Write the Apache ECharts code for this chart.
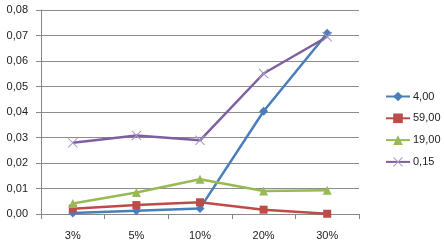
<!DOCTYPE html>
<html>
<head>
<meta charset="utf-8">
<script src="https://cdn.jsdelivr.net/npm/echarts@6/dist/echarts.min.js"></script>
<style>
  html, body { margin: 0; padding: 0; background: #fff; }
  #chart { width: 444px; height: 248px; }
</style>
</head>
<body>
<div id="chart"></div>
<script>
const categories = ["3%", "5%", "10%", "20%", "30%"];
const seriesNames = ["4,00", "59,00", "19,00", "0,15"];
const s400 = [0.0004, 0.0013, 0.0022, 0.0403, 0.0709];
const s5900 = [0.0021, 0.0035, 0.0046, 0.0017, 0.0001];
const s1900 = [0.0041, 0.0084, 0.0136, 0.0090, 0.0093];
const s015 = [0.0279, 0.0308, 0.0289, 0.0551, 0.0695];

const colors = ["#4a7ebb", "#be4b48", "#98b954", "#7d60a0"];
// thin X marker like the Excel one
const crossPath = "path://M0,0.7 L0.7,0 L5,4.3 L9.3,0 L10,0.7 L5.7,5 L10,9.3 L9.3,10 L5,5.7 L0.7,10 L0,9.3 L4.3,5 Z";

const chart = echarts.init(document.getElementById("chart"));

const mk = (name, data, color, symbol, size, markColor) => ({
  name,
  type: "line",
  data,
  symbol,
  symbolSize: size,
  showAllSymbol: true,
  lineStyle: { color, width: 2.5 },
  itemStyle: { color: markColor || color },
});

chart.setOption({
  animation: false,
  textStyle: { fontFamily: "Liberation Sans, Arial, sans-serif" },
  grid: { left: 41, right: 85, top: 10, bottom: 34 },
  legend: {
    orient: "vertical",
    left: 380,
    top: 86,
    itemWidth: 24,
    itemHeight: 12,
    itemGap: 10.8,
    textStyle: { fontSize: 11, color: "#222", padding: [0, 0, 0, -2] },
    data: seriesNames,
  },
  xAxis: {
    type: "category",
    data: categories,
    boundaryGap: true,
    axisLine: { lineStyle: { color: "#888", width: 1 } },
    axisTick: { show: true, length: 5, lineStyle: { color: "#888" } },
    axisLabel: { fontSize: 11, color: "#222", margin: 16 },
  },
  yAxis: {
    type: "value",
    min: 0,
    max: 0.08,
    interval: 0.01,
    axisLine: { show: true, lineStyle: { color: "#888" } },
    axisTick: { show: true, length: 5, lineStyle: { color: "#888" } },
    axisLabel: {
      fontSize: 11,
      color: "#222",
      margin: 13,
      formatter: (v) => v.toFixed(2).replace(".", ","),
    },
    splitLine: { lineStyle: { color: "#8c8c8c", width: 1 } },
  },
  series: [
    mk(seriesNames[0], s400, colors[0], "diamond", 9),
    mk(seriesNames[1], s5900, colors[1], "rect", 8),
    mk(seriesNames[2], s1900, colors[2], "triangle", 9),
    mk(seriesNames[3], s015, colors[3], crossPath, 10, "#a897c8"),
  ],
});
</script>
</body>
</html>
